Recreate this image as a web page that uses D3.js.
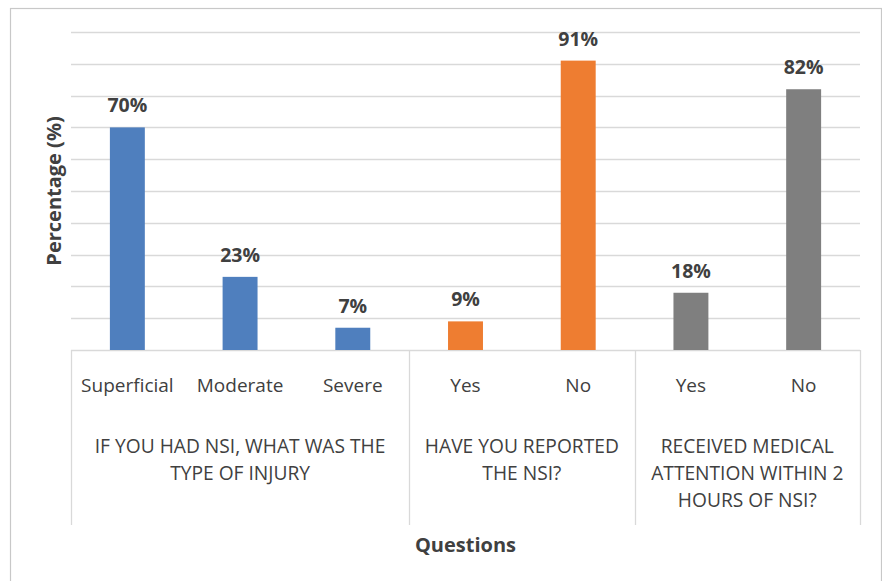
<!DOCTYPE html>
<html>
<head>
<meta charset="utf-8">
<script src="https://cdn.jsdelivr.net/npm/d3@7"></script>
<style>
  html, body { margin: 0; padding: 0; background: #fff; }
  svg { display: block; }
  text { font-family: "Open Sans", "Noto Sans", sans-serif; fill: #404040; }
</style>
</head>
<body>
<svg id="chart" width="882" height="581"></svg>
<script>
// Survey answers about needle-stick injuries (NSI)
const categories = ["Superficial", "Moderate", "Severe", "Yes", "No", "Yes", "No"];
const values = [70, 23, 7, 9, 91, 18, 82];
const groupOf = [0, 0, 0, 1, 1, 2, 2];
const groupLabels = [
  ["IF YOU HAD NSI, WHAT WAS THE", "TYPE OF INJURY"],
  ["HAVE YOU REPORTED", "THE NSI?"],
  ["RECEIVED MEDICAL", "ATTENTION WITHIN 2", "HOURS OF NSI?"]
];
const groupColors = ["#4f7fbe", "#ee7d31", "#7f7f7f"];
const yTicks = d3.range(0, 101, 10);

const svg = d3.select("#chart");
const plotLeft = 71, plotRight = 860, plotTop = 32, plotBase = 350, sepBottom = 525;

// outer chart frame
svg.append("rect")
  .attr("x", 10.5).attr("y", 8.5)
  .attr("width", 871).attr("height", 600)
  .attr("fill", "none").attr("stroke", "#c8c8c8").attr("stroke-width", 1.2);

const x = d3.scaleBand().domain(d3.range(categories.length))
  .range([plotLeft, plotRight]).paddingInner(0.69).paddingOuter(0.345);
const slot = d3.scaleBand().domain(d3.range(categories.length)).range([plotLeft, plotRight]);
const y = d3.scaleLinear().domain([0, 100]).range([plotBase, plotTop]);

// horizontal gridlines
svg.append("g").selectAll("line").data(yTicks).join("line")
  .attr("x1", plotLeft).attr("x2", plotRight)
  .attr("y1", d => Math.round(y(d)) + 0.5).attr("y2", d => Math.round(y(d)) + 0.5)
  .attr("stroke", "#d9d9d9").attr("stroke-width", 1.3);

// bars
svg.append("g").selectAll("rect").data(values).join("rect")
  .attr("x", (d, i) => x(i))
  .attr("width", x.bandwidth())
  .attr("y", d => y(d))
  .attr("height", d => plotBase - y(d))
  .attr("fill", (d, i) => groupColors[groupOf[i]]);

// value labels
svg.append("g").selectAll("text").data(values).join("text")
  .attr("x", (d, i) => x(i) + x.bandwidth() / 2)
  .attr("y", d => y(d) - 15)
  .attr("text-anchor", "middle")
  .attr("font-size", 19.5).attr("font-weight", 700)
  .text(d => d + "%");

// group boundaries for the category axis
const bounds = [0];
groupOf.forEach((g, i) => { if (i > 0 && g !== groupOf[i - 1]) bounds.push(i); });
bounds.push(categories.length);
const boundX = i => i === categories.length ? plotRight : slot(i);
svg.append("g").selectAll("line").data(bounds).join("line")
  .attr("x1", d => Math.round(boundX(d)) + 0.5).attr("x2", d => Math.round(boundX(d)) + 0.5)
  .attr("y1", plotBase).attr("y2", sepBottom)
  .attr("stroke", "#d9d9d9").attr("stroke-width", 1.3);

// category tick labels
svg.append("g").selectAll("text").data(categories).join("text")
  .attr("x", (d, i) => slot(i) + slot.bandwidth() / 2)
  .attr("y", 392)
  .attr("text-anchor", "middle")
  .attr("font-size", 19)
  .text(d => d);

// group labels (wrapped lines)
const gl = svg.append("g").selectAll("text").data(groupLabels).join("text")
  .attr("text-anchor", "middle")
  .attr("font-size", 19.2)
  .attr("transform", (d, g) => {
    const cx = (boundX(bounds[g]) + boundX(bounds[g + 1])) / 2;
    return `translate(${cx},453)`;
  });
gl.selectAll("tspan").data(d => d).join("tspan")
  .attr("x", 0).attr("dy", (d, i) => i === 0 ? 0 : 27)
  .text(d => d);

// axis titles
svg.append("text")
  .attr("x", (plotLeft + plotRight) / 2).attr("y", 552)
  .attr("text-anchor", "middle")
  .attr("font-size", 20).attr("font-weight", 700)
  .text("Questions");

svg.append("text")
  .attr("transform", `translate(61,${(plotTop + plotBase) / 2}) rotate(-90)`)
  .attr("text-anchor", "middle")
  .attr("font-size", 20).attr("font-weight", 700)
  .text("Percentage (%)");
</script>
</body>
</html>
